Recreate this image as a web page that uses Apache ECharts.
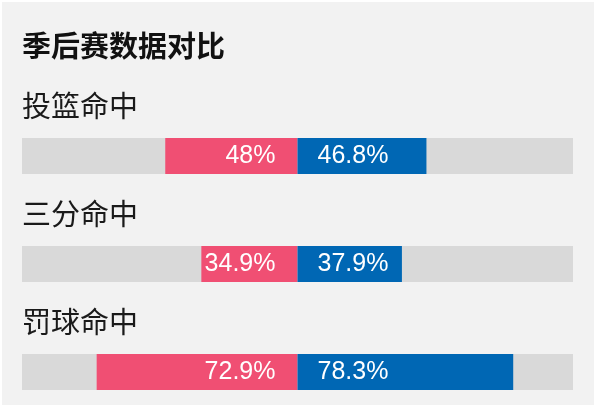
<!DOCTYPE html>
<html>
<head>
<meta charset="utf-8">
<script src="https://cdn.jsdelivr.net/npm/echarts@6/dist/echarts.min.js"></script>
<style>
  html, body { margin: 0; padding: 0; background: #ffffff; }
  #main { position: absolute; left: 2px; top: 2px; width: 592px; height: 403px; }
</style>
</head>
<body>
<div id="main"></div>
<script>
// 数据
var chartTitle = '季后赛数据对比';
var categories = ['投篮命中', '三分命中', '罚球命中'];
var leftValues = [48, 34.9, 72.9];   // 粉色
var rightValues = [46.8, 37.9, 78.3]; // 蓝色

var chart = echarts.init(document.getElementById('main'));

var rowTop = 136, rowStep = 108, barH = 36;
var cnFont = '"Noto Sans CJK SC", sans-serif';
var numFont = '"Liberation Sans", Arial, sans-serif';

var titles = [{
    text: chartTitle,
    left: 20,
    top: 29,
    padding: 0,
    textStyle: { fontFamily: cnFont, fontSize: 29, fontWeight: 'bold', color: '#111' }
}];
var grids = [], xAxes = [], yAxes = [], series = [];

categories.forEach(function (c, i) {
    var top = rowTop + i * rowStep;
    titles.push({
        text: c,
        left: 20,
        top: top - 47,
        padding: 0,
        textStyle: { fontFamily: cnFont, fontSize: 29, fontWeight: 'normal', color: '#1a1a1a' }
    });
    grids.push({ left: 20, right: 21, top: top, height: barH });
    xAxes.push({ gridIndex: i, type: 'value', min: -100, max: 100, show: false });
    yAxes.push({ gridIndex: i, type: 'category', data: [c], show: false });

    var base = { type: 'bar', xAxisIndex: i, yAxisIndex: i, barWidth: '100%', barGap: '-100%', silent: true };
    // 灰色底条
    series.push(Object.assign({}, base, { data: [100], itemStyle: { color: '#d9d9d9' } }));
    series.push(Object.assign({}, base, { data: [-100], itemStyle: { color: '#d9d9d9' } }));
    // 粉色
    series.push(Object.assign({}, base, {
        data: [-leftValues[i]],
        itemStyle: { color: '#f04f73' },
        label: {
            show: true, position: 'insideRight', distance: 22,
            color: '#fff', fontFamily: numFont, fontSize: 25,
            formatter: function (p) { return Math.abs(p.value) + '%'; }
        }
    }));
    // 蓝色
    series.push(Object.assign({}, base, {
        data: [rightValues[i]],
        itemStyle: { color: '#0067b4' },
        label: {
            show: true, position: 'insideLeft', distance: 20,
            color: '#fff', fontFamily: numFont, fontSize: 25,
            formatter: '{c}%'
        }
    }));
});

chart.setOption({
    backgroundColor: '#f2f2f2',
    animation: false,
    title: titles,
    grid: grids,
    xAxis: xAxes,
    yAxis: yAxes,
    series: series
});
</script>
</body>
</html>
